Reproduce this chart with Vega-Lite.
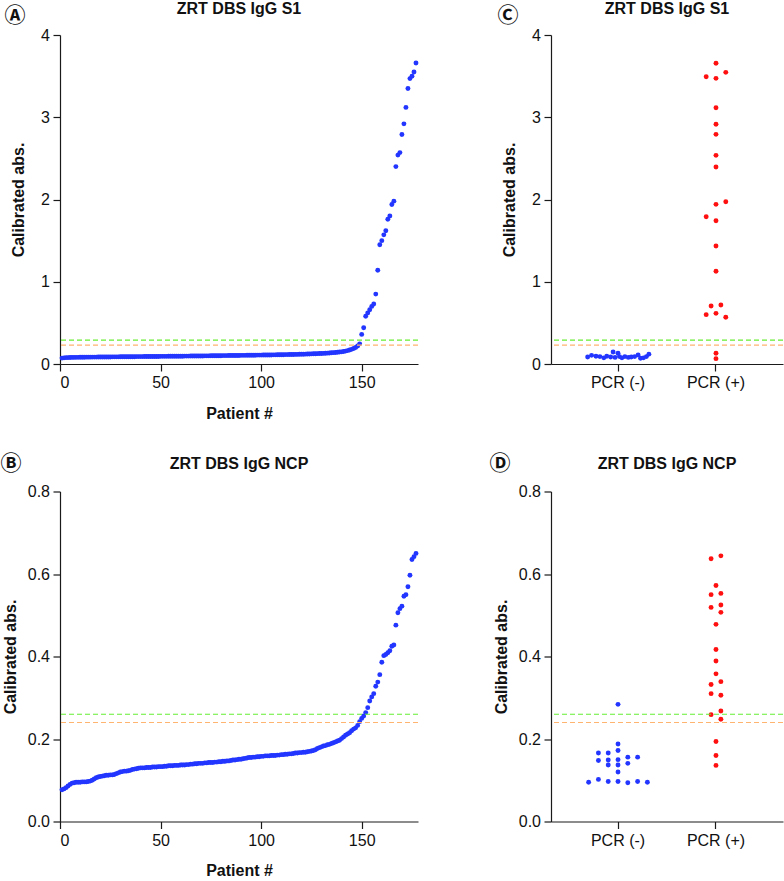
{
  "$schema": "https://vega.github.io/schema/vega-lite/v6.json",
  "padding": {"left": 0, "top": 1, "right": 0, "bottom": 0},
  "columns": 2,
  "align": "each",
  "spacing": {"row": 31.5, "column": 70},
  "config": {
    "font": "Liberation Sans",
    "view": {"stroke": null},
    "axis": {"grid": false, "domainColor": "#1a1a1a", "tickColor": "#1a1a1a", "domainWidth": 1.2, "tickWidth": 1.2, "tickSize": 7, "labelFontSize": 16, "labelColor": "#111111", "labelPadding": 3.5, "titleFontSize": 16, "titleFontWeight": "bold", "titleColor": "#111111"},
    "title": {"fontSize": 16, "fontWeight": "bold", "color": "#111111", "frame": "group"},
    "circle": {"opacity": 1}
  },
  "datasets": {
    "a": [
      {"p":1,"v":0.072},{"p":2,"v":0.075},{"p":3,"v":0.077},{"p":4,"v":0.078},{"p":5,"v":0.079},{"p":6,"v":0.080},{"p":7,"v":0.080},{"p":8,"v":0.081},{"p":9,"v":0.081},{"p":10,"v":0.082},
      {"p":11,"v":0.082},{"p":12,"v":0.082},{"p":13,"v":0.083},{"p":14,"v":0.083},{"p":15,"v":0.083},{"p":16,"v":0.084},{"p":17,"v":0.084},{"p":18,"v":0.084},{"p":19,"v":0.085},{"p":20,"v":0.085},
      {"p":21,"v":0.085},{"p":22,"v":0.086},{"p":23,"v":0.086},{"p":24,"v":0.086},{"p":25,"v":0.086},{"p":26,"v":0.087},{"p":27,"v":0.087},{"p":28,"v":0.087},{"p":29,"v":0.087},{"p":30,"v":0.088},
      {"p":31,"v":0.088},{"p":32,"v":0.088},{"p":33,"v":0.088},{"p":34,"v":0.089},{"p":35,"v":0.089},{"p":36,"v":0.089},{"p":37,"v":0.089},{"p":38,"v":0.090},{"p":39,"v":0.090},{"p":40,"v":0.090},
      {"p":41,"v":0.090},{"p":42,"v":0.091},{"p":43,"v":0.091},{"p":44,"v":0.091},{"p":45,"v":0.091},{"p":46,"v":0.092},{"p":47,"v":0.092},{"p":48,"v":0.092},{"p":49,"v":0.092},{"p":50,"v":0.093},
      {"p":51,"v":0.093},{"p":52,"v":0.093},{"p":53,"v":0.093},{"p":54,"v":0.094},{"p":55,"v":0.094},{"p":56,"v":0.094},{"p":57,"v":0.094},{"p":58,"v":0.095},{"p":59,"v":0.095},{"p":60,"v":0.095},
      {"p":61,"v":0.095},{"p":62,"v":0.096},{"p":63,"v":0.096},{"p":64,"v":0.096},{"p":65,"v":0.097},{"p":66,"v":0.097},{"p":67,"v":0.097},{"p":68,"v":0.097},{"p":69,"v":0.098},{"p":70,"v":0.098},
      {"p":71,"v":0.098},{"p":72,"v":0.099},{"p":73,"v":0.099},{"p":74,"v":0.099},{"p":75,"v":0.100},{"p":76,"v":0.100},{"p":77,"v":0.100},{"p":78,"v":0.101},{"p":79,"v":0.101},{"p":80,"v":0.101},
      {"p":81,"v":0.102},{"p":82,"v":0.102},{"p":83,"v":0.102},{"p":84,"v":0.103},{"p":85,"v":0.103},{"p":86,"v":0.103},{"p":87,"v":0.104},{"p":88,"v":0.104},{"p":89,"v":0.104},{"p":90,"v":0.105},
      {"p":91,"v":0.105},{"p":92,"v":0.105},{"p":93,"v":0.106},{"p":94,"v":0.106},{"p":95,"v":0.106},{"p":96,"v":0.107},{"p":97,"v":0.107},{"p":98,"v":0.108},{"p":99,"v":0.108},{"p":100,"v":0.108},
      {"p":101,"v":0.109},{"p":102,"v":0.109},{"p":103,"v":0.110},{"p":104,"v":0.110},{"p":105,"v":0.110},{"p":106,"v":0.111},{"p":107,"v":0.111},{"p":108,"v":0.112},{"p":109,"v":0.112},{"p":110,"v":0.113},
      {"p":111,"v":0.113},{"p":112,"v":0.114},{"p":113,"v":0.114},{"p":114,"v":0.115},{"p":115,"v":0.115},{"p":116,"v":0.116},{"p":117,"v":0.117},{"p":118,"v":0.117},{"p":119,"v":0.118},{"p":120,"v":0.119},
      {"p":121,"v":0.119},{"p":122,"v":0.120},{"p":123,"v":0.121},{"p":124,"v":0.122},{"p":125,"v":0.123},{"p":126,"v":0.124},{"p":127,"v":0.125},{"p":128,"v":0.126},{"p":129,"v":0.127},{"p":130,"v":0.128},
      {"p":131,"v":0.129},{"p":132,"v":0.131},{"p":133,"v":0.132},{"p":134,"v":0.134},{"p":135,"v":0.136},{"p":136,"v":0.138},{"p":137,"v":0.140},{"p":138,"v":0.142},{"p":139,"v":0.145},{"p":140,"v":0.148},
      {"p":141,"v":0.152},{"p":142,"v":0.157},{"p":143,"v":0.163},{"p":144,"v":0.170},{"p":145,"v":0.178},{"p":146,"v":0.188},{"p":147,"v":0.200},{"p":148,"v":0.218},{"p":149,"v":0.245},
      {"p":150,"v":0.36},{"p":151,"v":0.44},{"p":152,"v":0.58},{"p":153,"v":0.62},{"p":154,"v":0.66},{"p":155,"v":0.70},{"p":156,"v":0.73},{"p":157,"v":0.85},{"p":158,"v":1.14},{"p":159,"v":1.45},
      {"p":160,"v":1.50},{"p":161,"v":1.57},{"p":162,"v":1.62},{"p":163,"v":1.76},{"p":164,"v":1.80},{"p":165,"v":1.94},{"p":166,"v":1.98},{"p":167,"v":2.40},{"p":168,"v":2.54},{"p":169,"v":2.57},
      {"p":170,"v":2.79},{"p":171,"v":2.92},{"p":172,"v":3.12},{"p":173,"v":3.35},{"p":174,"v":3.47},{"p":175,"v":3.50},{"p":176,"v":3.55},{"p":177,"v":3.66}
    ],
    "b": [
      {"p":1,"v":0.077},{"p":2,"v":0.079},{"p":3,"v":0.082},{"p":4,"v":0.086},{"p":5,"v":0.090},{"p":6,"v":0.093},{"p":7,"v":0.094},{"p":8,"v":0.095},{"p":9,"v":0.095},{"p":10,"v":0.095},
      {"p":11,"v":0.096},{"p":12,"v":0.096},{"p":13,"v":0.096},{"p":14,"v":0.097},{"p":15,"v":0.098},{"p":16,"v":0.100},{"p":17,"v":0.103},{"p":18,"v":0.106},{"p":19,"v":0.108},{"p":20,"v":0.109},
      {"p":21,"v":0.110},{"p":22,"v":0.111},{"p":23,"v":0.112},{"p":24,"v":0.112},{"p":25,"v":0.113},{"p":26,"v":0.113},{"p":27,"v":0.114},{"p":28,"v":0.116},{"p":29,"v":0.118},{"p":30,"v":0.120},
      {"p":31,"v":0.121},{"p":32,"v":0.122},{"p":33,"v":0.122},{"p":34,"v":0.123},{"p":35,"v":0.124},{"p":36,"v":0.126},{"p":37,"v":0.127},{"p":38,"v":0.128},{"p":39,"v":0.129},{"p":40,"v":0.130},
      {"p":41,"v":0.130},{"p":42,"v":0.130},{"p":43,"v":0.131},{"p":44,"v":0.131},{"p":45,"v":0.131},{"p":46,"v":0.132},{"p":47,"v":0.132},{"p":48,"v":0.132},{"p":49,"v":0.133},{"p":50,"v":0.133},
      {"p":51,"v":0.133},{"p":52,"v":0.134},{"p":53,"v":0.134},{"p":54,"v":0.135},{"p":55,"v":0.135},{"p":56,"v":0.135},{"p":57,"v":0.136},{"p":58,"v":0.136},{"p":59,"v":0.136},{"p":60,"v":0.137},
      {"p":61,"v":0.137},{"p":62,"v":0.137},{"p":63,"v":0.138},{"p":64,"v":0.138},{"p":65,"v":0.139},{"p":66,"v":0.139},{"p":67,"v":0.140},{"p":68,"v":0.140},{"p":69,"v":0.141},{"p":70,"v":0.141},
      {"p":71,"v":0.141},{"p":72,"v":0.142},{"p":73,"v":0.142},{"p":74,"v":0.143},{"p":75,"v":0.143},{"p":76,"v":0.143},{"p":77,"v":0.144},{"p":78,"v":0.144},{"p":79,"v":0.145},{"p":80,"v":0.145},
      {"p":81,"v":0.146},{"p":82,"v":0.146},{"p":83,"v":0.147},{"p":84,"v":0.147},{"p":85,"v":0.148},{"p":86,"v":0.149},{"p":87,"v":0.149},{"p":88,"v":0.150},{"p":89,"v":0.151},{"p":90,"v":0.151},
      {"p":91,"v":0.152},{"p":92,"v":0.153},{"p":93,"v":0.154},{"p":94,"v":0.155},{"p":95,"v":0.155},{"p":96,"v":0.156},{"p":97,"v":0.156},{"p":98,"v":0.157},{"p":99,"v":0.157},{"p":100,"v":0.158},
      {"p":101,"v":0.158},{"p":102,"v":0.159},{"p":103,"v":0.159},{"p":104,"v":0.159},{"p":105,"v":0.160},{"p":106,"v":0.160},{"p":107,"v":0.160},{"p":108,"v":0.161},{"p":109,"v":0.161},{"p":110,"v":0.162},
      {"p":111,"v":0.162},{"p":112,"v":0.163},{"p":113,"v":0.163},{"p":114,"v":0.164},{"p":115,"v":0.164},{"p":116,"v":0.165},{"p":117,"v":0.166},{"p":118,"v":0.166},{"p":119,"v":0.167},{"p":120,"v":0.167},
      {"p":121,"v":0.168},{"p":122,"v":0.168},{"p":123,"v":0.169},{"p":124,"v":0.170},{"p":125,"v":0.171},{"p":126,"v":0.172},{"p":127,"v":0.174},{"p":128,"v":0.177},{"p":129,"v":0.179},{"p":130,"v":0.181},
      {"p":131,"v":0.183},{"p":132,"v":0.184},{"p":133,"v":0.186},{"p":134,"v":0.187},{"p":135,"v":0.189},{"p":136,"v":0.191},{"p":137,"v":0.193},{"p":138,"v":0.195},{"p":139,"v":0.197},{"p":140,"v":0.201},
      {"p":141,"v":0.205},{"p":142,"v":0.209},{"p":143,"v":0.212},{"p":144,"v":0.215},{"p":145,"v":0.220},{"p":146,"v":0.224},{"p":147,"v":0.227},{"p":148,"v":0.233},{"p":149,"v":0.242},{"p":150,"v":0.250},
      {"p":151,"v":0.256},{"p":152,"v":0.264},{"p":153,"v":0.276},{"p":154,"v":0.292},{"p":155,"v":0.302},{"p":156,"v":0.310},{"p":157,"v":0.328},{"p":158,"v":0.338},{"p":159,"v":0.356},{"p":160,"v":0.386},
      {"p":161,"v":0.402},{"p":162,"v":0.405},{"p":163,"v":0.409},{"p":164,"v":0.414},{"p":165,"v":0.425},{"p":166,"v":0.428},{"p":167,"v":0.476},{"p":168,"v":0.506},{"p":169,"v":0.516},{"p":170,"v":0.522},
      {"p":171,"v":0.546},{"p":172,"v":0.550},{"p":173,"v":0.569},{"p":174,"v":0.597},{"p":175,"v":0.635},{"p":176,"v":0.642},{"p":177,"v":0.650}
    ],
    "c": [
      {"g":"PCR (-)","col":-6.2,"v":0.085},{"g":"PCR (-)","col":-5.4,"v":0.105},{"g":"PCR (-)","col":-4.5,"v":0.095},{"g":"PCR (-)","col":-3.7,"v":0.09},{"g":"PCR (-)","col":-2.9,"v":0.075},
      {"g":"PCR (-)","col":-2.3,"v":0.095},{"g":"PCR (-)","col":-1.5,"v":0.085},{"g":"PCR (-)","col":-1.0,"v":0.145},{"g":"PCR (-)","col":-0.6,"v":0.08},{"g":"PCR (-)","col":0.0,"v":0.13},
      {"g":"PCR (-)","col":0.3,"v":0.09},{"g":"PCR (-)","col":0.8,"v":0.075},{"g":"PCR (-)","col":1.4,"v":0.09},{"g":"PCR (-)","col":2.1,"v":0.08},{"g":"PCR (-)","col":2.7,"v":0.085},
      {"g":"PCR (-)","col":3.4,"v":0.09},{"g":"PCR (-)","col":4.1,"v":0.11},{"g":"PCR (-)","col":4.6,"v":0.07},{"g":"PCR (-)","col":5.2,"v":0.075},{"g":"PCR (-)","col":5.8,"v":0.09},{"g":"PCR (-)","col":6.3,"v":0.12},
      {"g":"PCR (+)","col":0,"v":3.656},{"g":"PCR (+)","col":2,"v":3.546},{"g":"PCR (+)","col":-2,"v":3.493},{"g":"PCR (+)","col":0,"v":3.473},{"g":"PCR (+)","col":0,"v":3.116},
      {"g":"PCR (+)","col":0,"v":2.914},{"g":"PCR (+)","col":0,"v":2.792},{"g":"PCR (+)","col":0,"v":2.537},{"g":"PCR (+)","col":0,"v":2.395},{"g":"PCR (+)","col":2,"v":1.973},
      {"g":"PCR (+)","col":0,"v":1.941},{"g":"PCR (+)","col":-2,"v":1.791},{"g":"PCR (+)","col":0,"v":1.742},{"g":"PCR (+)","col":0,"v":1.435},{"g":"PCR (+)","col":0,"v":1.127},
      {"g":"PCR (+)","col":1,"v":0.717},{"g":"PCR (+)","col":-1,"v":0.705},{"g":"PCR (+)","col":-2,"v":0.600},{"g":"PCR (+)","col":0,"v":0.616},{"g":"PCR (+)","col":2,"v":0.568},
      {"g":"PCR (+)","col":0,"v":0.130},{"g":"PCR (+)","col":0,"v":0.065}
    ],
    "d": [
      {"g":"PCR (-)","col":0,"v":0.284},{"g":"PCR (-)","col":0,"v":0.188},{"g":"PCR (-)","col":0,"v":0.172},{"g":"PCR (-)","col":-4,"v":0.166},{"g":"PCR (-)","col":-2,"v":0.166},
      {"g":"PCR (-)","col":2,"v":0.156},{"g":"PCR (-)","col":4,"v":0.156},{"g":"PCR (-)","col":-4,"v":0.148},{"g":"PCR (-)","col":-2,"v":0.149},{"g":"PCR (-)","col":0,"v":0.150},
      {"g":"PCR (-)","col":-2,"v":0.137},{"g":"PCR (-)","col":0,"v":0.137},{"g":"PCR (-)","col":2,"v":0.141},{"g":"PCR (-)","col":0,"v":0.120},{"g":"PCR (-)","col":-6,"v":0.095},
      {"g":"PCR (-)","col":-4,"v":0.102},{"g":"PCR (-)","col":-2,"v":0.097},{"g":"PCR (-)","col":0,"v":0.097},{"g":"PCR (-)","col":2,"v":0.094},{"g":"PCR (-)","col":4,"v":0.097},{"g":"PCR (-)","col":6,"v":0.095},
      {"g":"PCR (+)","col":-1,"v":0.637},{"g":"PCR (+)","col":1,"v":0.644},{"g":"PCR (+)","col":0,"v":0.572},{"g":"PCR (+)","col":-1,"v":0.550},{"g":"PCR (+)","col":1,"v":0.553},
      {"g":"PCR (+)","col":-1,"v":0.519},{"g":"PCR (+)","col":1,"v":0.525},{"g":"PCR (+)","col":1,"v":0.507},{"g":"PCR (+)","col":0,"v":0.478},{"g":"PCR (+)","col":0,"v":0.417},
      {"g":"PCR (+)","col":0,"v":0.389},{"g":"PCR (+)","col":0,"v":0.358},{"g":"PCR (+)","col":-1,"v":0.332},{"g":"PCR (+)","col":1,"v":0.339},{"g":"PCR (+)","col":-1,"v":0.310},
      {"g":"PCR (+)","col":1,"v":0.306},{"g":"PCR (+)","col":1,"v":0.268},{"g":"PCR (+)","col":-1,"v":0.259},{"g":"PCR (+)","col":1,"v":0.248},{"g":"PCR (+)","col":0,"v":0.194},
      {"g":"PCR (+)","col":0,"v":0.160},{"g":"PCR (+)","col":0,"v":0.136}
    ]
  },
  "concat": [
    {
      "width": 358, "height": 329,
      "title": {"text": "ZRT DBS IgG S1", "offset": -12.5},
      "layer": [
        {"data": {"name": "a"}, "mark": {"type": "circle", "size": 24, "color": "#2236ff", "opacity": 1},
         "encoding": {
           "x": {"field": "p", "type": "quantitative", "scale": {"domain": [0, 178], "nice": false}, "axis": {"values": [0, 50, 100, 150], "title": "Patient #", "titlePadding": 14.5}},
           "y": {"field": "v", "type": "quantitative", "scale": {"domain": [0, 4]}, "axis": {"values": [0, 1, 2, 3, 4], "format": "d", "title": "Calibrated abs.", "titlePadding": 14.5}}
         }},
        {"data": {"values": [{}]}, "mark": {"type": "rule", "color": "#66ee33", "strokeDash": [5, 3], "strokeWidth": 1.2}, "encoding": {"y": {"datum": 0.29}}},
        {"data": {"values": [{}]}, "mark": {"type": "rule", "color": "#ffb470", "strokeDash": [5, 3], "strokeWidth": 1.2}, "encoding": {"y": {"datum": 0.23}}},
        {"data": {"values": [{}]}, "mark": {"type": "text", "text": "Ⓐ", "font": "Noto Sans CJK JP", "fontSize": 21, "fontWeight": "bold", "color": "#111111", "align": "center", "baseline": "middle", "dx": -45, "dy": -19.5},
         "encoding": {"x": {"datum": 0}, "y": {"datum": 4}}}
      ]
    },
    {
      "width": 232, "height": 329,
      "title": {"text": "ZRT DBS IgG S1", "offset": -12.5},
      "layer": [
        {"data": {"name": "c"}, "mark": {"type": "circle", "size": 24, "opacity": 1},
         "encoding": {
           "x": {"field": "g", "type": "nominal", "sort": ["PCR (-)", "PCR (+)"], "scale": {"type": "band", "paddingInner": 0, "paddingOuter": 0.184}, "axis": {"title": null, "labelAngle": 0}},
           "xOffset": {"field": "col", "type": "quantitative", "scale": {"domain": [-10, 10]}},
           "y": {"field": "v", "type": "quantitative", "scale": {"domain": [0, 4]}, "axis": {"values": [0, 1, 2, 3, 4], "format": "d", "title": "Calibrated abs.", "titlePadding": 14.5}},
           "color": {"field": "g", "type": "nominal", "scale": {"domain": ["PCR (-)", "PCR (+)"], "range": ["#2236ff", "#ff1010"]}, "legend": null}
         }},
        {"data": {"values": [{}]}, "mark": {"type": "rule", "color": "#66ee33", "strokeDash": [5, 3], "strokeWidth": 1.2}, "encoding": {"y": {"datum": 0.29}}},
        {"data": {"values": [{}]}, "mark": {"type": "rule", "color": "#ffb470", "strokeDash": [5, 3], "strokeWidth": 1.2}, "encoding": {"y": {"datum": 0.23}}},
        {"data": {"values": [{}]}, "mark": {"type": "text", "text": "Ⓒ", "font": "Noto Sans CJK JP", "fontSize": 21, "fontWeight": "bold", "color": "#111111", "align": "center", "baseline": "middle", "dx": -110, "dy": -19.5},
         "encoding": {"x": {"datum": "PCR (-)"}, "y": {"datum": 4}}}
      ]
    },
    {
      "width": 358, "height": 330,
      "title": {"text": "ZRT DBS IgG NCP", "offset": -19},
      "layer": [
        {"data": {"name": "b"}, "mark": {"type": "circle", "size": 24, "color": "#2236ff", "opacity": 1},
         "encoding": {
           "x": {"field": "p", "type": "quantitative", "scale": {"domain": [0, 178], "nice": false}, "axis": {"values": [0, 50, 100, 150], "title": "Patient #", "titlePadding": 14.5}},
           "y": {"field": "v", "type": "quantitative", "scale": {"domain": [0, 0.8]}, "axis": {"values": [0, 0.2, 0.4, 0.6, 0.8], "format": ".1f", "title": "Calibrated abs.", "titlePadding": 9}}
         }},
        {"data": {"values": [{}]}, "mark": {"type": "rule", "color": "#66ee33", "strokeDash": [5, 3], "strokeWidth": 1.2}, "encoding": {"y": {"datum": 0.26}}},
        {"data": {"values": [{}]}, "mark": {"type": "rule", "color": "#ffb470", "strokeDash": [5, 3], "strokeWidth": 1.2}, "encoding": {"y": {"datum": 0.24}}},
        {"data": {"values": [{}]}, "mark": {"type": "text", "text": "Ⓑ", "font": "Noto Sans CJK JP", "fontSize": 21, "fontWeight": "bold", "color": "#111111", "align": "center", "baseline": "middle", "dx": -49, "dy": -28},
         "encoding": {"x": {"datum": 0}, "y": {"datum": 0.8}}}
      ]
    },
    {
      "width": 232, "height": 330,
      "title": {"text": "ZRT DBS IgG NCP", "offset": -19},
      "layer": [
        {"data": {"name": "d"}, "mark": {"type": "circle", "size": 24, "opacity": 1},
         "encoding": {
           "x": {"field": "g", "type": "nominal", "sort": ["PCR (-)", "PCR (+)"], "scale": {"type": "band", "paddingInner": 0, "paddingOuter": 0.184}, "axis": {"title": null, "labelAngle": 0}},
           "xOffset": {"field": "col", "type": "quantitative", "scale": {"domain": [-10, 10]}},
           "y": {"field": "v", "type": "quantitative", "scale": {"domain": [0, 0.8]}, "axis": {"values": [0, 0.2, 0.4, 0.6, 0.8], "format": ".1f", "title": "Calibrated abs.", "titlePadding": 9}},
           "color": {"field": "g", "type": "nominal", "scale": {"domain": ["PCR (-)", "PCR (+)"], "range": ["#2236ff", "#ff1010"]}, "legend": null}
         }},
        {"data": {"values": [{}]}, "mark": {"type": "rule", "color": "#66ee33", "strokeDash": [5, 3], "strokeWidth": 1.2}, "encoding": {"y": {"datum": 0.26}}},
        {"data": {"values": [{}]}, "mark": {"type": "rule", "color": "#ffb470", "strokeDash": [5, 3], "strokeWidth": 1.2}, "encoding": {"y": {"datum": 0.24}}},
        {"data": {"values": [{}]}, "mark": {"type": "text", "text": "Ⓓ", "font": "Noto Sans CJK JP", "fontSize": 21, "fontWeight": "bold", "color": "#111111", "align": "center", "baseline": "middle", "dx": -118, "dy": -28},
         "encoding": {"x": {"datum": "PCR (-)"}, "y": {"datum": 0.8}}}
      ]
    }
  ]
}
